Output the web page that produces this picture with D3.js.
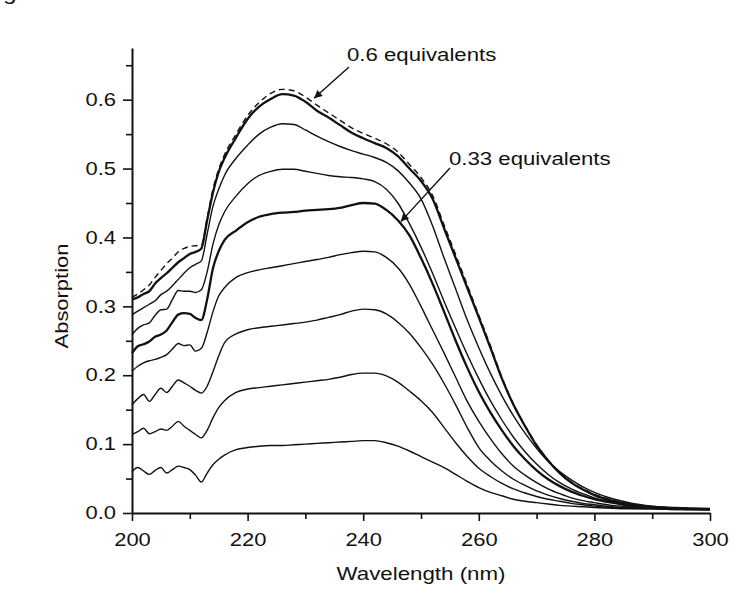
<!DOCTYPE html>
<html>
<head>
<meta charset="utf-8">
<script src="https://cdnjs.cloudflare.com/ajax/libs/d3/7.8.5/d3.min.js"></script>
<style>
  body { margin: 0; background: #fff; }
  text { font-family: "Liberation Sans", Arial, sans-serif; fill: #111; }
</style>
</head>
<body>
<div id="chart"></div>
<script>
//Canvas dimensions and margins
var width = 733,
    height = 592;

var margin = {
    top: 48,
    bottom: 79,
    left: 132,
    right: 23
};

//Text in the source figure is drawn wider than plain Arial
var textStretch = 1.22;

//Wavelength grid (nm) shared by all spectra
var wavelength = [200, 201, 202, 203, 204, 205, 206, 207, 208, 209, 210, 211, 212, 213, 214, 215, 216,
    218, 220, 222, 224, 226, 228, 230, 232, 234, 236, 238, 240, 242, 244, 246, 248, 250, 252, 254, 256, 258,
    260, 262, 264, 266, 268, 270, 272, 274, 276, 278, 280,
    283, 286, 290, 295, 300];

//Absorption spectra, one array per titration step
var step1 = [0.060, 0.066, 0.061, 0.056, 0.062, 0.066, 0.058, 0.063, 0.068, 0.066, 0.063, 0.055, 0.045, 0.058, 0.070, 0.078, 0.084,
    0.092, 0.095, 0.097, 0.098, 0.098, 0.099, 0.100, 0.101, 0.102, 0.103, 0.104, 0.105, 0.105, 0.102, 0.097, 0.090, 0.082, 0.074, 0.066, 0.056, 0.046,
    0.037, 0.030, 0.025, 0.020, 0.017, 0.015, 0.013, 0.011, 0.010, 0.009, 0.008,
    0.007, 0.006, 0.006, 0.005, 0.005];

var step2 = [0.114, 0.118, 0.123, 0.115, 0.118, 0.122, 0.120, 0.126, 0.133, 0.126, 0.120, 0.114, 0.109, 0.120, 0.138, 0.153, 0.163,
    0.175, 0.180, 0.182, 0.184, 0.186, 0.188, 0.190, 0.192, 0.194, 0.197, 0.201, 0.203, 0.203, 0.199, 0.190, 0.177, 0.163, 0.146, 0.124, 0.102, 0.082,
    0.065, 0.053, 0.043, 0.035, 0.029, 0.024, 0.020, 0.017, 0.014, 0.012, 0.010,
    0.008, 0.007, 0.006, 0.005, 0.005];

var step3 = [0.157, 0.166, 0.172, 0.162, 0.172, 0.181, 0.175, 0.184, 0.193, 0.189, 0.184, 0.178, 0.174, 0.184, 0.205, 0.228, 0.247,
    0.260, 0.266, 0.269, 0.271, 0.273, 0.275, 0.277, 0.280, 0.284, 0.288, 0.293, 0.296, 0.295, 0.289, 0.277, 0.261, 0.240, 0.216, 0.188, 0.157, 0.124,
    0.095, 0.076, 0.061, 0.049, 0.040, 0.032, 0.026, 0.021, 0.017, 0.014, 0.012,
    0.009, 0.008, 0.007, 0.006, 0.005];

var step4 = [0.206, 0.213, 0.218, 0.221, 0.223, 0.226, 0.230, 0.238, 0.246, 0.243, 0.244, 0.235, 0.239, 0.262, 0.292, 0.315, 0.327,
    0.342, 0.349, 0.353, 0.356, 0.359, 0.362, 0.365, 0.368, 0.371, 0.375, 0.378, 0.380, 0.379, 0.371, 0.356, 0.332, 0.300, 0.266, 0.232, 0.197, 0.162,
    0.133, 0.108, 0.086, 0.068, 0.055, 0.044, 0.035, 0.028, 0.022, 0.018, 0.015,
    0.011, 0.009, 0.007, 0.006, 0.005];

var step5 = [0.232, 0.242, 0.245, 0.249, 0.256, 0.259, 0.265, 0.277, 0.288, 0.290, 0.289, 0.283, 0.280, 0.310, 0.355, 0.380, 0.396,
    0.410, 0.422, 0.430, 0.434, 0.436, 0.437, 0.439, 0.440, 0.441, 0.443, 0.447, 0.450, 0.449, 0.440, 0.425, 0.403, 0.370, 0.333, 0.292, 0.250, 0.211,
    0.176, 0.146, 0.120, 0.097, 0.078, 0.062, 0.049, 0.039, 0.031, 0.025, 0.020,
    0.015, 0.011, 0.008, 0.006, 0.005];

var step6 = [0.259, 0.268, 0.273, 0.276, 0.287, 0.295, 0.296, 0.310, 0.323, 0.322, 0.322, 0.320, 0.324, 0.350, 0.390, 0.418, 0.437,
    0.460, 0.478, 0.490, 0.496, 0.499, 0.499, 0.496, 0.493, 0.490, 0.488, 0.487, 0.485, 0.481, 0.470, 0.450, 0.420, 0.386, 0.348, 0.307, 0.268, 0.230,
    0.195, 0.163, 0.135, 0.110, 0.089, 0.071, 0.056, 0.044, 0.035, 0.028, 0.022,
    0.016, 0.012, 0.009, 0.007, 0.006];

var step7 = [0.288, 0.293, 0.298, 0.303, 0.308, 0.317, 0.322, 0.330, 0.339, 0.348, 0.356, 0.361, 0.366, 0.405, 0.445, 0.470, 0.490,
    0.515, 0.534, 0.550, 0.560, 0.565, 0.564, 0.556, 0.547, 0.539, 0.532, 0.526, 0.521, 0.516, 0.509, 0.497, 0.479, 0.456, 0.417, 0.370, 0.325, 0.280,
    0.240, 0.203, 0.170, 0.141, 0.116, 0.094, 0.075, 0.060, 0.048, 0.038, 0.030,
    0.021, 0.015, 0.010, 0.007, 0.006];

var step8 = [0.310, 0.313, 0.318, 0.322, 0.333, 0.341, 0.348, 0.356, 0.364, 0.370, 0.376, 0.379, 0.384, 0.425, 0.465, 0.495, 0.515,
    0.545, 0.572, 0.590, 0.601, 0.608, 0.606, 0.597, 0.584, 0.574, 0.563, 0.552, 0.544, 0.537, 0.530, 0.518, 0.500, 0.482, 0.456, 0.413, 0.370, 0.327,
    0.284, 0.240, 0.195, 0.157, 0.126, 0.098, 0.076, 0.058, 0.044, 0.034, 0.026,
    0.018, 0.013, 0.009, 0.007, 0.006];

//Final (excess) spectrum, drawn dashed
var stepExcess = [0.313, 0.318, 0.324, 0.331, 0.342, 0.352, 0.362, 0.370, 0.379, 0.384, 0.387, 0.388, 0.389, 0.428, 0.470, 0.499, 0.520,
    0.550, 0.577, 0.596, 0.609, 0.615, 0.613, 0.604, 0.592, 0.581, 0.570, 0.559, 0.551, 0.544, 0.536, 0.524, 0.506, 0.487, 0.461, 0.418, 0.375, 0.331,
    0.287, 0.243, 0.197, 0.158, 0.127, 0.099, 0.077, 0.059, 0.045, 0.035, 0.027,
    0.019, 0.013, 0.009, 0.007, 0.006];

//Axis ticks
var xTicks = [200, 220, 240, 260, 280, 300],
    xMinorTicks = [210, 230, 250, 270, 290],
    yTicks = [0.0, 0.1, 0.2, 0.3, 0.4, 0.5, 0.6],
    yMinorTicks = [0.05, 0.15, 0.25, 0.35, 0.45, 0.55, 0.65];

//Labels
var xLabel = "Wavelength (nm)",
    yLabel = "Absorption",
    notes = [
        {text: "0.6 equivalents", wl: 231.5, abs: 0.602},
        {text: "0.33 equivalents", wl: 246.5, abs: 0.423}
    ];

//Line style per spectrum (thick = highlighted step)
var series = [
    {values: step1, width: 1.4, dash: null},
    {values: step2, width: 1.4, dash: null},
    {values: step3, width: 1.4, dash: null},
    {values: step4, width: 1.4, dash: null},
    {values: step5, width: 2.3, dash: null},
    {values: step6, width: 1.4, dash: null},
    {values: step7, width: 1.4, dash: null},
    {values: step8, width: 2.3, dash: null},
    {values: stepExcess, width: 1.4, dash: "6,4"}
];

// create an svg to draw in
var svg = d3.select("#chart")
    .append("svg")
    .attr("width", width)
    .attr("height", height);

var x = d3.scaleLinear()
    .domain([200, 300])
    .range([margin.left, width - margin.right]);

var y = d3.scaleLinear()
    .domain([0, 0.675])
    .range([height - margin.bottom, margin.top]);

var line = d3.line()
    .x(function(d, i) { return x(wavelength[i]); })
    .y(function(d) { return y(d); })
    .curve(d3.curveMonotoneX);

// spectra
svg.selectAll(".spectrum")
    .data(series)
    .enter()
    .append("path")
    .attr("class", "spectrum")
    .attr("fill", "none")
    .attr("stroke", "#111")
    .attr("stroke-width", function(d) { return d.width; })
    .attr("stroke-dasharray", function(d) { return d.dash; })
    .attr("stroke-linejoin", "round")
    .attr("d", function(d) { return line(d.values); });

// x axis, major and minor ticks
var xAxis = svg.append("g")
    .attr("transform", "translate(0," + (height - margin.bottom) + ")")
    .call(d3.axisBottom(x).tickValues(xTicks).tickSize(8).tickSizeOuter(0).tickPadding(12));

svg.append("g")
    .attr("transform", "translate(0," + (height - margin.bottom) + ")")
    .call(d3.axisBottom(x).tickValues(xMinorTicks).tickSize(6).tickFormat(""))
    .select(".domain").remove();

// y axis, major and minor ticks
var yAxis = svg.append("g")
    .attr("transform", "translate(" + margin.left + ",0)")
    .call(d3.axisLeft(y).tickValues(yTicks).tickFormat(d3.format(".1f")).tickSize(9).tickSizeOuter(0).tickPadding(7));

svg.append("g")
    .attr("transform", "translate(" + margin.left + ",0)")
    .call(d3.axisLeft(y).tickValues(yMinorTicks).tickSize(6).tickFormat(""))
    .select(".domain").remove();

svg.selectAll(".domain")
    .attr("stroke", "#111")
    .attr("stroke-width", 2);

svg.selectAll(".tick line")
    .attr("stroke", "#111")
    .attr("stroke-width", 1.6);

svg.selectAll(".tick text")
    .attr("font-size", "18px")
    .attr("font-family", "'Liberation Sans', Arial, sans-serif")
    .attr("fill", "#111")
    .attr("transform", "scale(" + textStretch + ",1)");

yAxis.selectAll(".tick text")
    .attr("x", -16 / textStretch);

// axis titles
svg.append("text")
    .attr("transform", "translate(" + ((x.range()[0] + x.range()[1]) / 2) + ",580) scale(1.24,1)")
    .attr("text-anchor", "middle")
    .attr("font-size", "18px")
    .text(xLabel);

svg.append("text")
    .attr("transform", "translate(68,296) rotate(-90) scale(" + textStretch + ",1)")
    .attr("text-anchor", "middle")
    .attr("font-size", "18px")
    .text(yLabel);

// fragment of the figure caption cut off at the top edge
svg.append("text")
    .attr("transform", "translate(3,0) scale(" + textStretch + ",1)")
    .attr("font-size", "20px")
    .text("g");

// arrow head
svg.append("defs")
    .append("marker")
    .attr("id", "arrow")
    .attr("viewBox", "0 0 10 10")
    .attr("refX", 10)
    .attr("refY", 5)
    .attr("markerUnits", "userSpaceOnUse")
    .attr("markerWidth", 11)
    .attr("markerHeight", 8)
    .attr("orient", "auto")
    .append("path")
    .attr("d", "M0,0L10,5L0,10Z")
    .attr("fill", "#111");

// annotations with arrows pointing at the spectra
var noteText = [{x: 347, y: 61, x0: 349, y0: 67}, {x: 449, y: 165, x0: 450, y0: 168}];

notes.forEach(function(n, i) {
    svg.append("text")
        .attr("transform", "translate(" + noteText[i].x + "," + noteText[i].y + ") scale(1.2,1)")
        .attr("font-size", "18.5px")
        .text(n.text);

    svg.append("line")
        .attr("x1", noteText[i].x0)
        .attr("y1", noteText[i].y0)
        .attr("x2", x(n.wl))
        .attr("y2", y(n.abs))
        .attr("stroke", "#111")
        .attr("stroke-width", 1.4)
        .attr("marker-end", "url(#arrow)");
});
</script>
</body>
</html>
